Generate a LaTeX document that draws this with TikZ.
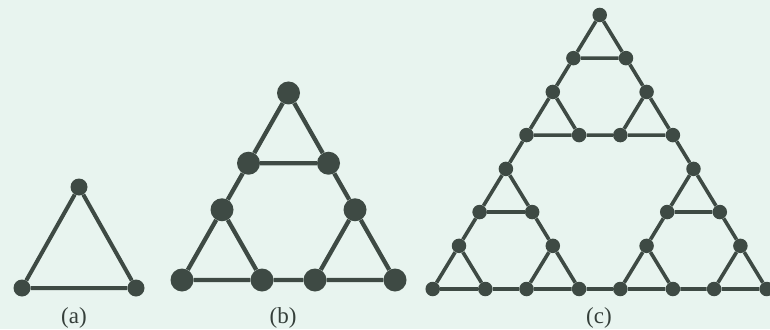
\documentclass[tikz,border=0pt]{standalone}
\usepackage{fontspec}
\setmainfont{Liberation Serif}
\definecolor{ink}{HTML}{3E4A44}
\definecolor{bgc}{HTML}{E8F4EF}
\tikzset{
  dota/.style={circle,fill=ink,inner sep=0pt,minimum size=17pt},
  dotb/.style={circle,fill=ink,inner sep=0pt,minimum size=23pt},
  dotc/.style={circle,fill=ink,inner sep=0pt,minimum size=14.5pt},
  edgea/.style={draw=ink,line width=4pt},
  edgeb/.style={draw=ink,line width=4.3pt},
  edgec/.style={draw=ink,line width=3.6pt},
  lab/.style={anchor=base,inner sep=0pt,text=ink!85!black,font=\fontsize{23}{23}\selectfont}
}
\begin{document}
\begin{tikzpicture}[x=1pt,y=-1pt]
\fill[bgc] (0,0) rectangle (770,329);
\useasboundingbox (0,0) rectangle (770,329);

% (a)
\node[dota] (a0) at (22,288) {};
\node[dota] (a1) at (136,288) {};
\node[dota] (a2) at (79,187) {};
\draw[edgea] (a0) -- (a1) (a1) -- (a2) (a2) -- (a0);
\node[lab] (la) at (74,323) {(a)};

% (b)
\begin{scope}[shift={(182,280)},x={(1pt,0pt)},y={(0.5pt,0.878pt)}]
\foreach \j/\tu/\tv in {0/0/0,1/133/0,2/0/133}{
  \node[dotb] (b\j0) at (\tu,\tv) {};
  \node[dotb] (b\j1) at (\tu+80,\tv) {};
  \node[dotb] (b\j2) at (\tu,\tv+80) {};
}
\foreach \j in {0,1,2}{
  \draw[edgeb] (b\j0) -- (b\j1) (b\j1) -- (b\j2) (b\j2) -- (b\j0);
}
\draw[edgeb] (b01) -- (b10) (b02) -- (b20) (b12) -- (b21);
\end{scope}
\node[lab] (lb) at (283,323) {(b)};

% (c)
\begin{scope}[shift={(432.7,289)},x={(1pt,0pt)},y={(0.5pt,0.8204pt)}]
\foreach \i/\qu/\qv in {0/0/0,1/187.6/0,2/0/187.6}{
  \foreach \j/\tu/\tv in {0/0/0,1/93.8/0,2/0/93.8}{
    \node[dotc] (c\i\j0) at (\qu+\tu,\qv+\tv) {};
    \node[dotc] (c\i\j1) at (\qu+\tu+52.6,\qv+\tv) {};
    \node[dotc] (c\i\j2) at (\qu+\tu,\qv+\tv+52.6) {};
  }
}
\foreach \i in {0,1,2}{
  \foreach \j in {0,1,2}{
    \draw[edgec] (c\i\j0) -- (c\i\j1) (c\i\j1) -- (c\i\j2) (c\i\j2) -- (c\i\j0);
  }
  \draw[edgec] (c\i01) -- (c\i10) (c\i02) -- (c\i20) (c\i12) -- (c\i21);
}
\draw[edgec] (c011) -- (c100) (c022) -- (c200) (c122) -- (c211);
\end{scope}
\node[lab] (lc) at (599,323) {(c)};
\end{tikzpicture}
\end{document}
